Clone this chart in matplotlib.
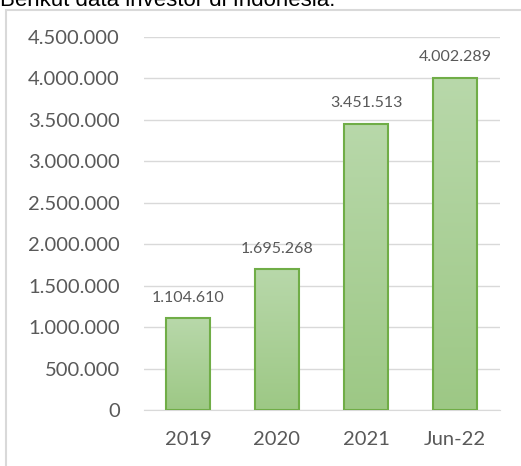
import numpy as np
import matplotlib.pyplot as plt
from matplotlib.patches import Rectangle
from matplotlib.ticker import FuncFormatter

plt.rcParams['font.family'] = ['Lato', 'DejaVu Sans']

categories = ['2019', '2020', '2021', 'Jun-22']
investors = [1104610, 1695268, 3451513, 4002289]
y_ticks = [0, 500000, 1000000, 1500000, 2000000, 2500000, 3000000, 3500000, 4000000, 4500000]

GRAY = '#595959'
EDGE = '#70ad47'


def fmt_id(v, pos=None):
    # Indonesian thousand separator
    return f'{int(v):,}'.replace(',', '.')


fig = plt.figure(figsize=(5.21, 4.66), dpi=100)

# frame of the embedded chart (cut by the screenshot)
fig.patches.append(Rectangle((6 / 521, -0.1), 1.1, 1 - 9.5 / 466 + 0.1,
                             transform=fig.transFigure, fill=False,
                             edgecolor='#d9d9d9', lw=1.5))
# text above the chart, cut at the top like in the screenshot
fig.text(0.0, 1 - 6.5 / 466, 'Berikut data investor di Indonesia:',
         fontsize=16, family='Liberation Sans', color='black', va='baseline')

ax = fig.add_axes([143.5 / 521, 1 - 410 / 466, 356 / 521, 373 / 466])
x = np.arange(len(categories))
bars = ax.bar(x, investors, width=0.5, color='none', edgecolor=EDGE, lw=1.5, zorder=3)

# vertical gradient fill, light on top
grad = np.linspace(0, 1, 256).reshape(-1, 1)
cmap = plt.matplotlib.colors.LinearSegmentedColormap.from_list('g', ['#9dc885', '#b8d8aa'])
for b in bars:
    im = ax.imshow(grad, cmap=cmap, origin='lower', aspect='auto', zorder=2,
                   extent=[b.get_x(), b.get_x() + b.get_width(), 0, b.get_height()])
    im.set_clip_path(b)

for xi, v in zip(x, investors):
    ax.annotate(fmt_id(v), (xi, v), xytext=(0, 10), textcoords='offset points',
                ha='center', va='bottom', fontsize=11.5, color=GRAY)

ax.set_xlim(-0.5, 3.5)
ax.set_ylim(0, 4500000)
ax.set_yticks(y_ticks)
ax.yaxis.set_major_formatter(FuncFormatter(fmt_id))
ax.set_xticks(x)
ax.set_xticklabels(categories)
ax.tick_params(length=0, labelsize=14.5, labelcolor=GRAY)
ax.tick_params(axis='y', pad=17)
ax.tick_params(axis='x', pad=15)
ax.grid(axis='y', color='#d9d9d9', lw=1, zorder=0)
for s in ['top', 'right', 'left']:
    ax.spines[s].set_visible(False)
ax.spines['bottom'].set_color('#d9d9d9')

fig.savefig('out.png', dpi=100)
